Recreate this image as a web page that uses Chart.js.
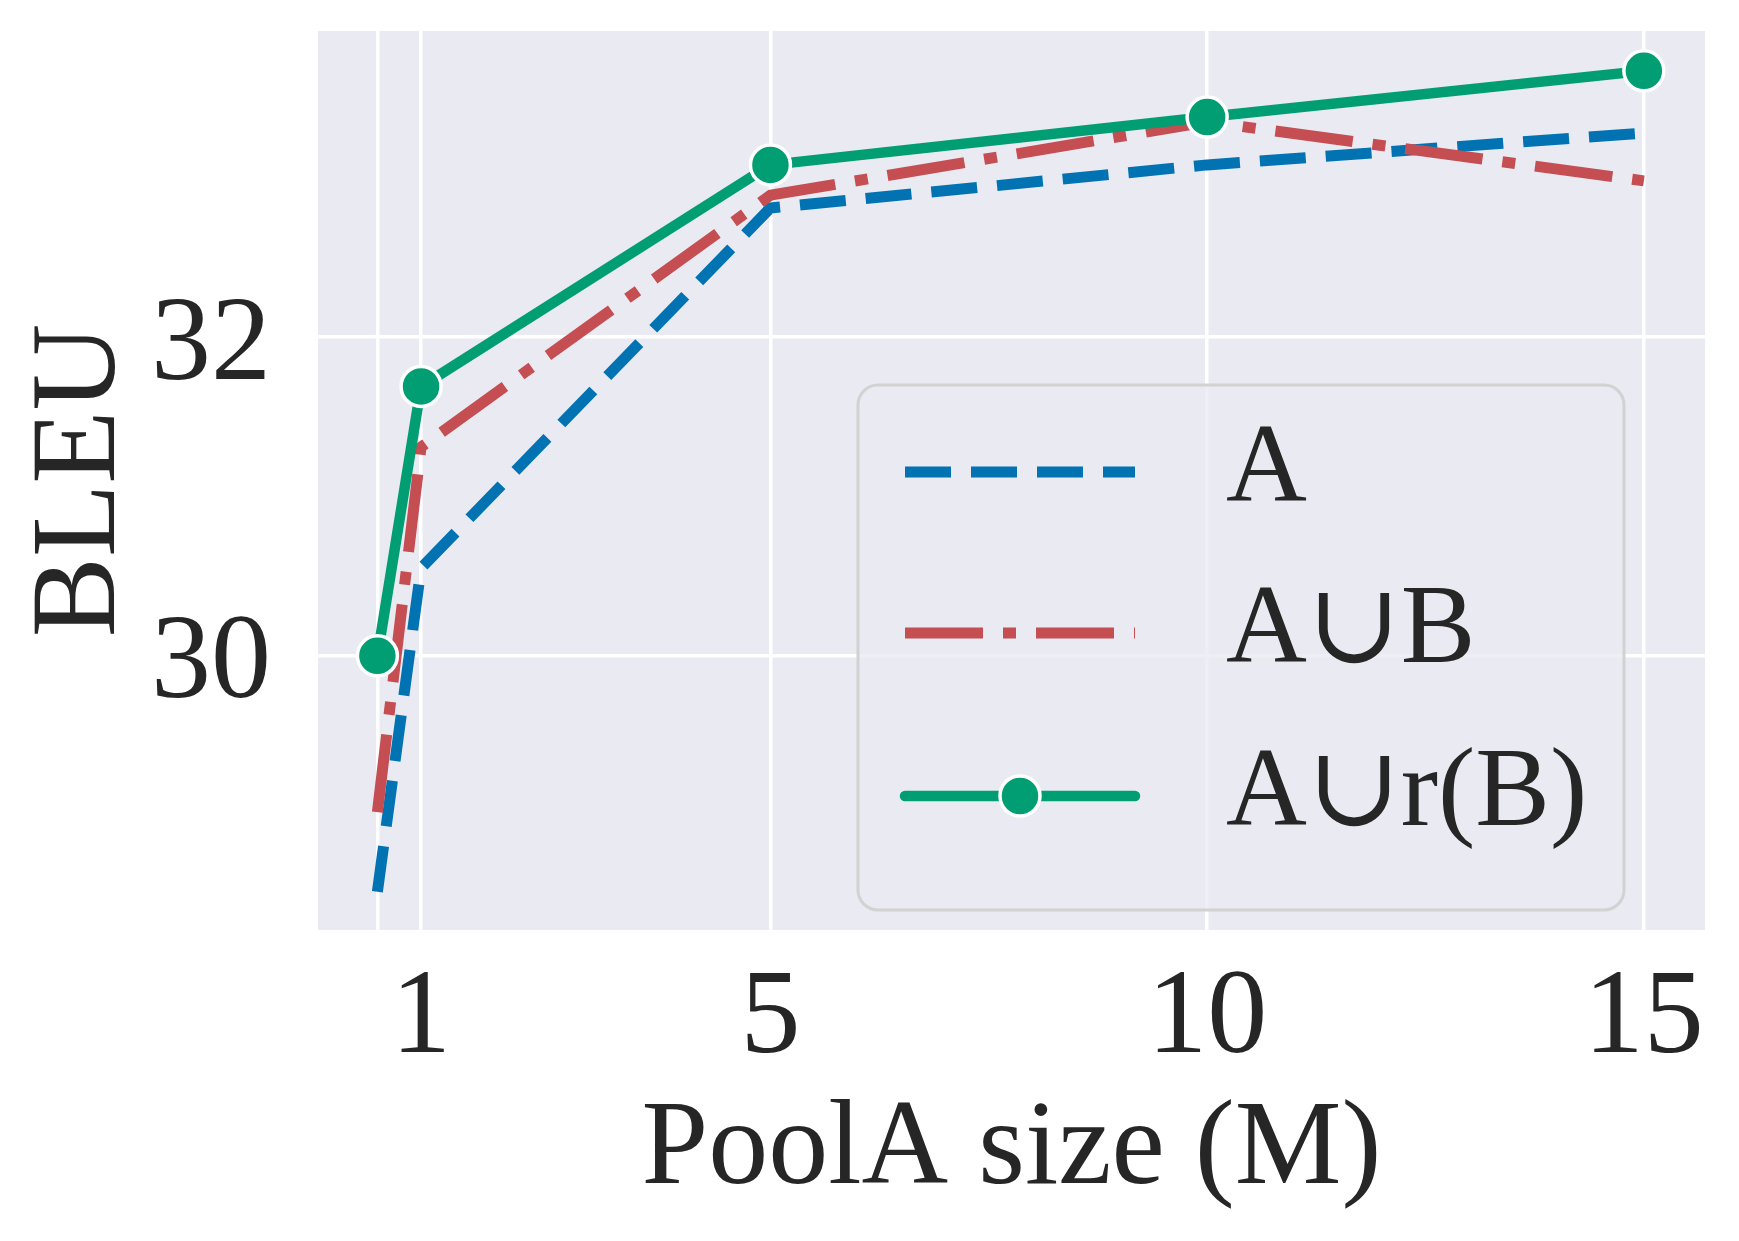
<!DOCTYPE html>
<html>
<head>
<meta charset="utf-8">
<script src="https://cdn.jsdelivr.net/npm/chart.js@4"></script>
<style>
  html, body { margin: 0; padding: 0; background: #ffffff; }
  canvas { display: block; }
</style>
</head>
<body>
<canvas id="bleu_chart" width="1739" height="1241"></canvas>
<script>
// values
const poolSizes = [0.5, 1, 5, 10, 15];
const bleuA = [28.52, 30.55, 32.81, 33.08, 33.28];
const bleuAuB = [29.02, 31.31, 32.89, 33.35, 32.98];
const bleuAurB = [30.00, 31.69, 33.08, 33.38, 33.67];
const seriesNames = ['A', 'A\u222aB', 'A\u222ar(B)'];
const xTicks = [0.5, 1, 5, 10, 15];
const xTickLabels = ['', '1', '5', '10', '15'];
const yTicks = [30, 32];

const serif = "'Liberation Serif', 'DejaVu Serif', serif";
const textColor = '#262626';

const toPoints = (ys) => poolSizes.map((x, i) => ({ x: x, y: ys[i] }));

// grey seaborn-style panel behind the plot
const panelBg = {
    id: 'panelBg',
    beforeDraw(chart) {
        const { ctx, chartArea: a } = chart;
        ctx.save();
        ctx.fillStyle = '#ffffff';
        ctx.fillRect(0, 0, chart.width, chart.height);
        ctx.fillStyle = '#eaeaf2';
        ctx.fillRect(a.left, a.top, a.right - a.left, a.bottom - a.top);
        ctx.restore();
    }
};

// legend drawn inside the plot, like matplotlib's
const innerLegend = {
    id: 'innerLegend',
    afterDatasetsDraw(chart) {
        const ctx = chart.ctx;
        const box = { x: 858, y: 385, w: 766, h: 525, r: 20 };
        ctx.save();
        ctx.beginPath();
        ctx.roundRect(box.x, box.y, box.w, box.h, box.r);
        ctx.fillStyle = 'rgba(234, 234, 242, 0.8)';
        ctx.fill();
        ctx.lineWidth = 3;
        ctx.strokeStyle = '#d2d2d2';
        ctx.stroke();

        const rows = [472, 633, 796];
        const x0 = 905, x1 = 1135;
        chart.data.datasets.forEach((ds, i) => {
            const y = rows[i];
            ctx.beginPath();
            ctx.moveTo(x0, y);
            ctx.lineTo(x1, y);
            ctx.lineWidth = ds.borderWidth;
            ctx.strokeStyle = ds.borderColor;
            ctx.setLineDash(ds.borderDash || []);
            ctx.lineCap = ds.borderCapStyle || 'butt';
            ctx.stroke();
            ctx.setLineDash([]);
            if (ds.pointRadius > 0) {
                ctx.beginPath();
                ctx.arc((x0 + x1) / 2, y, ds.pointRadius, 0, Math.PI * 2);
                ctx.fillStyle = ds.pointBackgroundColor;
                ctx.fill();
                ctx.lineWidth = ds.pointBorderWidth;
                ctx.strokeStyle = ds.pointBorderColor;
                ctx.stroke();
            }
            ctx.fillStyle = textColor;
            ctx.font = '112px ' + serif;
            ctx.textAlign = 'left';
            ctx.textBaseline = 'middle';
            ctx.fillText(ds.label, 1226, y);
        });
        ctx.restore();
    }
};

// keep chart.js from reserving extra room for the big tick labels
function noScalePadding(scale) {
    scale.paddingTop = 0;
    scale.paddingBottom = 0;
    scale.paddingLeft = 0;
    scale.paddingRight = 0;
}

const ctx = document.getElementById('bleu_chart').getContext('2d');
const bleu_chart = new Chart(ctx, {
    type: 'line',
    data: {
        datasets: [
            {
                label: seriesNames[0],
                data: toPoints(bleuA),
                borderColor: '#0173b2',
                borderWidth: 11,
                borderDash: [46, 20],
                borderCapStyle: 'butt',
                borderJoinStyle: 'round',
                pointRadius: 0,
                order: 3
            },
            {
                label: seriesNames[1],
                data: toPoints(bleuAuB),
                borderColor: '#c44e52',
                borderWidth: 11,
                borderDash: [78, 20, 13, 20],
                borderCapStyle: 'butt',
                borderJoinStyle: 'round',
                pointRadius: 0,
                order: 2
            },
            {
                label: seriesNames[2],
                data: toPoints(bleuAurB),
                borderColor: '#029e73',
                borderWidth: 10.5,
                borderCapStyle: 'round',
                borderJoinStyle: 'round',
                pointRadius: 20,
                pointBackgroundColor: '#029e73',
                pointBorderColor: '#ffffff',
                pointBorderWidth: 3.5,
                order: 1
            }
        ]
    },
    options: {
        responsive: false,
        animation: false,
        devicePixelRatio: 1,
        layout: { padding: { top: 31, right: 34, left: 0, bottom: 0 } },
        plugins: {
            legend: { display: false },
            tooltip: { enabled: false }
        },
        scales: {
            x: {
                type: 'linear',
                min: -0.18,
                max: 15.7,
                afterBuildTicks: (scale) => { scale.ticks = xTicks.map(v => ({ value: v })); },
                afterFit: (scale) => { scale.height = 311; noScalePadding(scale); },
                ticks: {
                    autoSkip: false,
                    maxRotation: 0,
                    padding: 18,
                    color: textColor,
                    font: { family: serif, size: 120 },
                    callback: (value) => xTickLabels[xTicks.indexOf(value)]
                },
                grid: { color: '#ffffff', lineWidth: 3.5, drawTicks: false },
                border: { display: false },
                title: {
                    display: true,
                    text: 'PoolA size (M)',
                    color: textColor,
                    font: { family: serif, size: 120 },
                    padding: { top: 0, bottom: 18 }
                }
            },
            y: {
                type: 'linear',
                min: 28.28,
                max: 33.92,
                afterBuildTicks: (scale) => { scale.ticks = yTicks.map(v => ({ value: v })); },
                afterFit: (scale) => { scale.width = 318; noScalePadding(scale); },
                ticks: {
                    padding: 47,
                    labelOffset: 10,
                    color: textColor,
                    font: { family: serif, size: 120 }
                },
                grid: { color: '#ffffff', lineWidth: 3.5, drawTicks: false },
                border: { display: false },
                title: {
                    display: true,
                    text: 'BLEU',
                    color: textColor,
                    font: { family: serif, size: 120 },
                    padding: { top: 10, bottom: 0 }
                }
            }
        }
    },
    plugins: [panelBg, innerLegend]
});
</script>
</body>
</html>
